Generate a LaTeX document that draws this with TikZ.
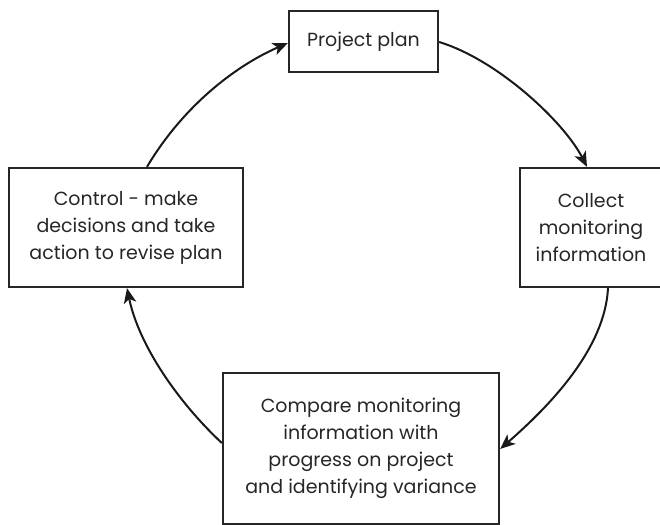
\documentclass[tikz,border=0pt]{standalone}
\usepackage{fontspec}
\setmainfont{Poppins}
\usetikzlibrary{arrows.meta,calc}
\tikzset{
  box/.style={draw=black!85, line width=2.3pt, align=center, inner sep=0pt,
    font=\fontsize{19}{27}\selectfont, text=black!85},
  flow/.style={draw=black!90, line width=2pt,
    -{Stealth[length=15pt,width=12.5pt,inset=4pt]}}
}
\begin{document}
\begin{tikzpicture}[x=1pt,y=-1pt]
\useasboundingbox (0,0) rectangle (660,524);
\node[box, minimum width=149pt, minimum height=61pt] (plan) at (363.5,41.5) {Project plan};
\node[box, minimum width=142pt, minimum height=119pt] (collect) at (591,227.5) {Collect\\monitoring\\information};
\node[box, minimum width=234pt, minimum height=119pt] (control) at (126,227.5) {Control - make\\decisions and take\\action to revise plan};
\node[box, minimum width=276pt, minimum height=151pt] (compare) at (361,448.5) {Compare monitoring\\information with\\progress on project\\and identifying variance};

\draw[flow] ($(control.north)+(21,0)$) .. controls (182,108) and (233,67) .. ($(plan.west)+(0,1.5)$);
\draw[flow] ($(plan.east)+(0,0.5)$) .. controls (498,60) and (564,122) .. ($(collect.north)+(-4,0)$);
\draw[flow] ($(collect.south)+(17,0)$) .. controls (605,347) and (553,403) .. ($(compare.east)+(0,0.5)$);
\draw[flow] ($(compare.west)+(0,-5.5)$) .. controls (179,403) and (139,346) .. ($(control.south)+(1,0)$);
\end{tikzpicture}
\end{document}
